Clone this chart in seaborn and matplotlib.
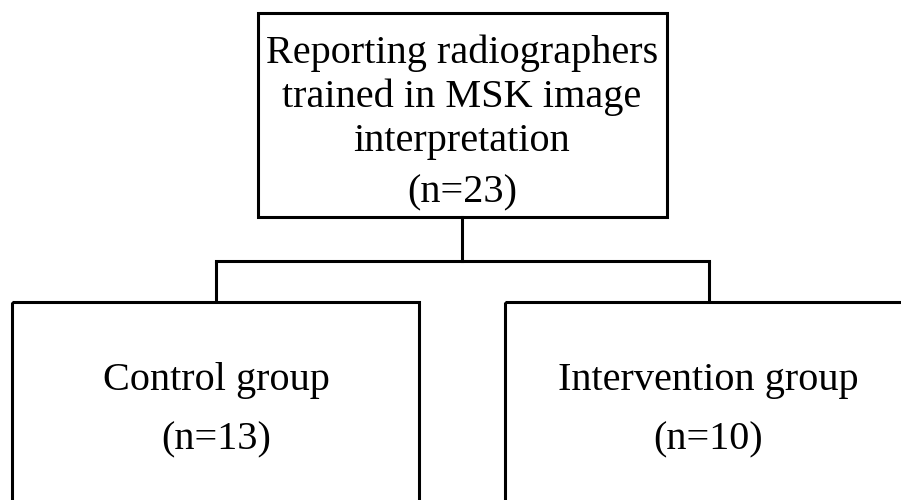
import matplotlib
matplotlib.use("Agg")
import matplotlib.pyplot as plt
import seaborn as sns
from matplotlib.patches import Rectangle

sns.set_theme(style="white")
plt.rcParams['font.family'] = ['Liberation Serif', 'DejaVu Serif']

# ---- content ----
top_lines = ["Reporting radiographers", "trained in MSK image", "interpretation"]
top_n = 23
groups = ["Control group", "Intervention group"]
group_n = [13, 10]

# ---- layout (pixels, y downward) ----
W, H = 901, 500
fig = plt.figure(figsize=(W / 100, H / 100), dpi=100)
ax = fig.add_axes([0, 0, 1, 1])
ax.set_xlim(0, W)
ax.set_ylim(H, 0)
ax.axis("off")

lw = 2.2
fs = 29

# top box
ax.add_patch(Rectangle((258, 13), 667 - 258, 217 - 13, fill=False, ec="black", lw=lw))
for i, t in enumerate(top_lines):
    ax.text(462, 63 + 44 * i, t, ha="center", va="baseline", fontsize=fs, color="black")
ax.text(462, 202, f"(n={top_n})", ha="center", va="baseline", fontsize=fs, color="black")

# connectors
ax.plot([462, 462], [217, 261], color="black", lw=lw, solid_capstyle="projecting")
ax.plot([216, 709], [261, 261], color="black", lw=lw, solid_capstyle="projecting")
ax.plot([216, 216], [261, 302], color="black", lw=lw)
ax.plot([709, 709], [261, 302], color="black", lw=lw)

# bottom boxes
boxes = [(12, 419), (505, 920)]
centers = [216, 708]
for (x0, x1), cx, g, n in zip(boxes, centers, groups, group_n):
    ax.add_patch(Rectangle((x0, 302), x1 - x0, 260, fill=False, ec="black", lw=lw))
    ax.text(cx, 390, g, ha="center", va="baseline", fontsize=fs, color="black")
    ax.text(cx, 449, f"(n={n})", ha="center", va="baseline", fontsize=fs, color="black")

fig.savefig("out.png", dpi=100, facecolor="white")
